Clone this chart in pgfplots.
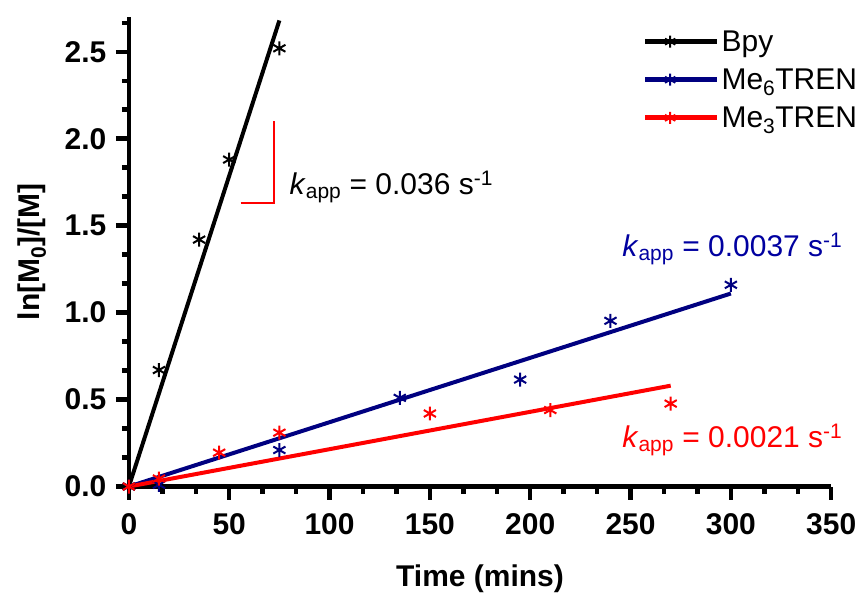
\documentclass[border=0pt]{standalone}
\usepackage{pgfplots}
\pgfplotsset{compat=1.18}
\usepackage{fontspec}
\setmainfont{Liberation Sans}
\definecolor{navyline}{RGB}{0,0,128}
\definecolor{bluetext}{RGB}{0,0,160}
\definecolor{redc}{RGB}{255,0,0}
\begin{document}
\begin{tikzpicture}
\begin{axis}[
  at={(0,0)}, anchor=south west,
  scale only axis, width=703pt, height=470pt,
  xmin=0, xmax=350, ymin=0, ymax=2.7,
  axis x line*=bottom, axis y line*=left,
  x axis line style={line width=4.5pt},
  y axis line style={line width=4.5pt},
  clip=false,
  xtick={0,50,...,350}, ytick={0,0.5,1.0,1.5,2.0,2.5},
  minor xtick={16.667,33.333,66.667,83.333,116.667,133.333,166.667,183.333,216.667,233.333,266.667,283.333,316.667,333.333},
  minor ytick={0.16667,0.33333,0.66667,0.83333,1.16667,1.33333,1.66667,1.83333,2.16667,2.33333,2.66667},
  tick align=outside, major tick length=13pt, minor tick length=7pt,
  major tick style={draw=black, line width=4.5pt},
  minor tick style={draw=black, line width=4.5pt},
  tick label style={font=\fontsize{30}{36}\selectfont\bfseries},
  xticklabel style={yshift=-11pt},
  yticklabel style={xshift=-6pt},
  /pgf/number format/assume math mode=true,
  yticklabel style={/pgf/number format/.cd, fixed, fixed zerofill, precision=1},
  label style={font=\fontsize{30}{36}\selectfont\bfseries},
  xlabel={Time (mins)},
  ylabel={ln[M\textsubscript{0}]/[M]},
  xlabel style={at={(rel axis cs:0.5,0)}, anchor=base, yshift=-100pt},
  ylabel style={at={(rel axis cs:0,0.5)}, anchor=center, yshift=97pt},
  legend style={draw=none, fill=none, at={(rel axis cs:0.727,0.98)}, anchor=north west,
    font=\fontsize{30}{36}\selectfont, row sep=12pt},
  legend cell align=left,
  legend image code/.code={\draw[mark repeat=2,mark phase=2,#1] plot coordinates {(0pt,0pt) (25pt,0pt) (50pt,0pt)};
    \path (0pt,0pt) -- (72pt,0pt);},
]
\addlegendimage{black, line width=5pt, mark=asterisk, mark options={line width=2pt, mark size=6pt}}
\addlegendentry{Bpy}
\addlegendimage{navyline, line width=5pt, mark=asterisk, mark options={line width=2pt, mark size=6pt}}
\addlegendentry{Me\textsubscript{6}TREN}
\addlegendimage{redc, line width=5pt, mark=asterisk, mark options={line width=2pt, mark size=6pt}}
\addlegendentry{Me\textsubscript{3}TREN}

\addplot[black, line width=4pt, forget plot] coordinates {(0,0) (75,2.68)};
\addplot[navyline, line width=4pt, forget plot] coordinates {(0,0) (300,1.11)};
\addplot[redc, line width=4pt, forget plot] coordinates {(0,0) (270,0.58)};

\addplot[only marks, mark=asterisk, black, mark size=7pt, line width=2pt, forget plot]
  coordinates {(0,0) (15,0.67) (35,1.42) (50,1.88) (75,2.52)};
\addplot[only marks, mark=asterisk, navyline, mark size=7pt, line width=2pt, forget plot]
  coordinates {(0,0) (15,0.01) (75,0.21) (135,0.51) (195,0.615) (240,0.953) (300,1.16)};
\addplot[only marks, mark=asterisk, redc, mark size=7pt, line width=2pt, forget plot]
  coordinates {(0,0) (15,0.046) (45,0.195) (75,0.31) (150,0.42) (210,0.44) (270,0.477)};

\draw[redc, line width=2pt] (axis cs:55.7,1.63) -- (axis cs:72.1,1.63) -- (axis cs:72.1,2.10);
\node[anchor=base west, inner sep=0pt, font=\fontsize{30}{36}\selectfont] at (axis cs:80,1.68)
  {\textit{k}\textsubscript{app} = 0.036 s\textsuperscript{-1}};
\node[anchor=base west, inner sep=0pt, text=bluetext, font=\fontsize{30}{36}\selectfont] at (axis cs:245.8,1.32)
  {\textit{k}\textsubscript{app} = 0.0037 s\textsuperscript{-1}};
\node[anchor=base west, inner sep=0pt, text=redc, font=\fontsize{30}{36}\selectfont] at (axis cs:245.8,0.224)
  {\textit{k}\textsubscript{app} = 0.0021 s\textsuperscript{-1}};
\end{axis}
\path (-129pt,-105pt) rectangle (733pt,487pt);
\end{tikzpicture}
\end{document}
